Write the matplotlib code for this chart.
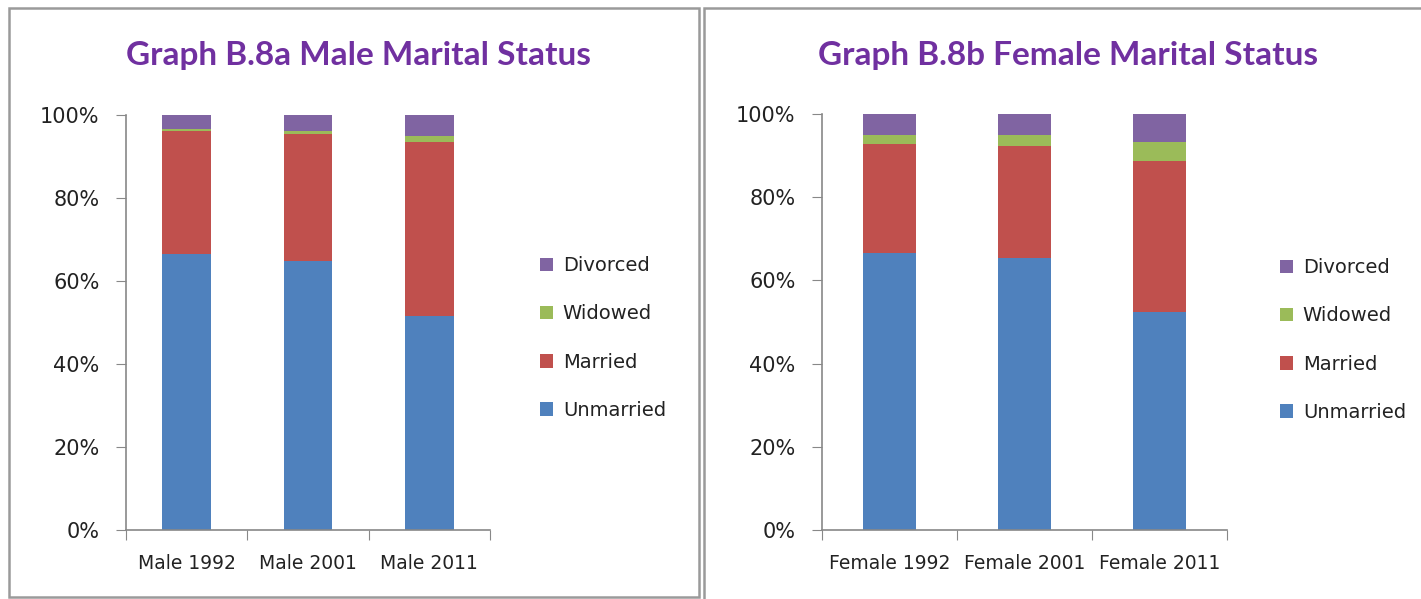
import numpy as np
import matplotlib.pyplot as plt
from matplotlib.patches import Rectangle, Patch

# values (percent)
male_cats = ["Male 1992", "Male 2001", "Male 2011"]
male_unmarried = [66.6, 64.7, 51.5]
male_married = [29.6, 30.8, 41.9]
male_widowed = [0.5, 0.6, 1.6]
male_divorced = [3.3, 3.9, 5.0]

female_cats = ["Female 1992", "Female 2001", "Female 2011"]
female_unmarried = [66.6, 65.4, 52.4]
female_married = [26.2, 26.8, 36.3]
female_widowed = [2.2, 2.8, 4.6]
female_divorced = [5.0, 5.0, 6.7]

series_names = ["Unmarried", "Married", "Widowed", "Divorced"]
colors = ["#4F81BD", "#C0504D", "#9BBB59", "#8064A2"]
y_ticks = [0, 20, 40, 60, 80, 100]

W, H = 1421, 599
fig = plt.figure(figsize=(W / 100, H / 100), dpi=100)
fig.patch.set_facecolor("white")


def px_rect(x0, y0, x1, y1):
    # pixel box (top-left origin) -> figure fractions
    return [x0 / W, 1 - y1 / H, (x1 - x0) / W, (y1 - y0) / H]


# panel borders
for (x0, y0, x1, y1) in [(9, 8, 699, 597), (704, 8, 1430, 610)]:
    fig.patches.append(Rectangle((x0 / W, 1 - y1 / H), (x1 - x0) / W, (y1 - y0) / H,
                                 transform=fig.transFigure, fill=False,
                                 edgecolor="#9a9a9a", lw=1.8))


def draw(box, cats, data, title, title_xy, legend_xy, bar_w):
    ax = fig.add_axes(px_rect(*box))
    x = np.arange(1, len(cats) + 1)
    bottom = np.zeros(len(cats))
    for vals, c in zip(data, colors):
        ax.bar(x, vals, bar_w, bottom=bottom, color=c, edgecolor="none")
        bottom += np.array(vals)
    ax.set_xlim(0.5, len(cats) + 0.5)
    ax.set_ylim(0, 100)
    ax.set_yticks(y_ticks)
    ax.set_yticklabels([f"{t}%" for t in y_ticks], fontsize=15, color="#222222")
    ax.set_xticks(np.arange(0.5, len(cats) + 1, 1.0))
    ax.set_xticklabels([])
    ax.set_xticks(x, minor=True)
    ax.set_xticklabels(cats, minor=True, fontsize=13.5, color="#222222")
    ax.tick_params(axis="x", which="major", length=7, color="#888888", direction="out")
    ax.tick_params(axis="x", which="minor", length=0, pad=17)
    ax.tick_params(axis="y", length=7, color="#888888", pad=12)
    for s in ["top", "right"]:
        ax.spines[s].set_visible(False)
    for s in ["left", "bottom"]:
        ax.spines[s].set_color("#888888")
        ax.spines[s].set_linewidth(1.2)
    ax.set_facecolor("none")

    fig.text(title_xy[0] / W, 1 - title_xy[1] / H, title, ha="center", va="center",
             fontsize=24, fontweight="bold", color="#7030A0", family="Lato")

    handles = [Patch(facecolor=c, edgecolor="none", label=n)
               for n, c in zip(series_names, colors)][::-1]
    fig.legend(handles=handles, loc="center left",
               bbox_to_anchor=(legend_xy[0] / W, 1 - legend_xy[1] / H),
               frameon=False, fontsize=14, handlelength=0.7, handleheight=0.7,
               handletextpad=0.5, labelspacing=1.5, labelcolor="#222222")
    return ax


draw((126, 115, 490, 530), male_cats,
     [male_unmarried, male_married, male_widowed, male_divorced],
     "Graph B.8a Male Marital Status", (358, 55), (522, 338), 0.4)
draw((822, 114, 1227, 530), female_cats,
     [female_unmarried, female_married, female_widowed, female_divorced],
     "Graph B.8b Female Marital Status", (1068, 55), (1262, 340), 0.39)

fig.savefig("out.png", dpi=100, facecolor="white")
